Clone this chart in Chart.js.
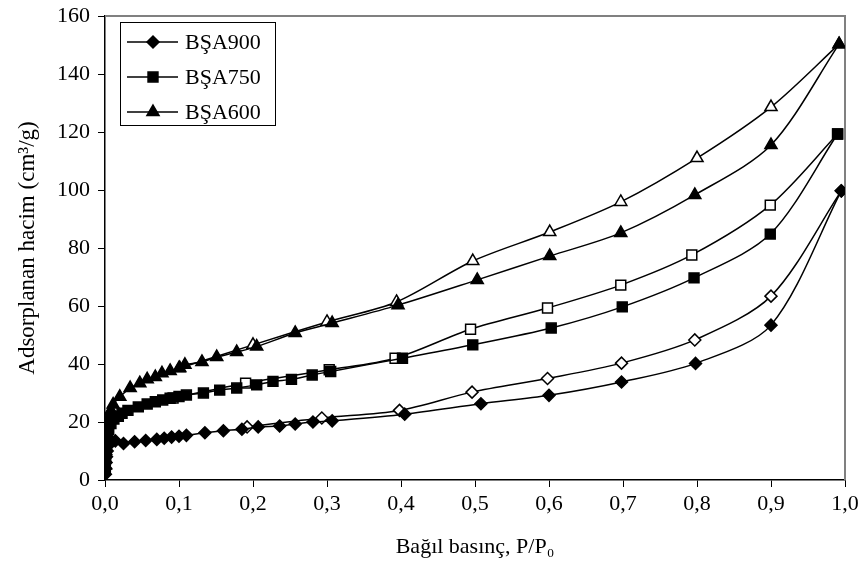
<!DOCTYPE html>
<html>
<head>
<meta charset="utf-8">
<script src="https://cdn.jsdelivr.net/npm/chart.js@4"></script>
<style>
  body { margin: 0; background: #fff; }
</style>
</head>
<body>
<canvas id="isoChart" width="865" height="572"></canvas>
<script>
// relative pressure (P/P0) and adsorbed volume (cm3/g)
const p900Ads = [0.0005, 0.001, 0.0015, 0.002, 0.003, 0.005, 0.009, 0.014, 0.025, 0.04, 0.055, 0.07, 0.08, 0.09, 0.1, 0.11, 0.135, 0.16, 0.185, 0.207, 0.236, 0.257, 0.281, 0.307, 0.405, 0.508, 0.6, 0.698, 0.798, 0.9, 0.995];
const v900Ads = [2, 4, 6, 8, 10, 12, 13.5, 13.5, 12.6, 13.2, 13.6, 14, 14.4, 14.8, 15.1, 15.4, 16.3, 17, 17.5, 18.3, 18.6, 19.3, 20, 20.4, 22.7, 26.3, 29.2, 33.8, 40.2, 53.4, 99.7];
const p900Des = [0.995, 0.9, 0.797, 0.698, 0.598, 0.496, 0.398, 0.293, 0.192];
const v900Des = [99.7, 63.4, 48.3, 40.3, 35, 30.3, 24, 21.4, 18.3];

const p750Ads = [0.0005, 0.001, 0.002, 0.003, 0.005, 0.008, 0.012, 0.018, 0.023, 0.031, 0.045, 0.057, 0.068, 0.078, 0.088, 0.1, 0.11, 0.133, 0.155, 0.178, 0.205, 0.227, 0.252, 0.28, 0.305, 0.402, 0.497, 0.603, 0.699, 0.796, 0.899, 0.99];
const v750Ads = [4, 8, 12, 15, 17.5, 19.5, 21, 22, 23, 24, 25.2, 26.2, 27, 27.6, 28.2, 28.8, 29.3, 30, 31, 31.7, 32.8, 34, 34.7, 36.2, 37.4, 42, 46.6, 52.4, 59.7, 69.7, 84.8, 119.3];
const p750Des = [0.99, 0.899, 0.793, 0.697, 0.598, 0.494, 0.392, 0.303, 0.19, 0.092];
const v750Des = [119.3, 94.8, 77.6, 67.2, 59.3, 52, 42, 38, 33.4, 28.3];

const p600Ads = [0.0005, 0.001, 0.002, 0.003, 0.005, 0.008, 0.011, 0.02, 0.034, 0.047, 0.057, 0.068, 0.077, 0.088, 0.1, 0.108, 0.131, 0.151, 0.178, 0.205, 0.257, 0.307, 0.396, 0.503, 0.601, 0.697, 0.797, 0.9, 0.992];
const v600Ads = [5, 10, 15, 19, 22, 24, 26, 28.7, 31.7, 33.4, 34.7, 35.5, 36.8, 37.6, 38.5, 39.7, 40.7, 42.4, 44.1, 46, 50.7, 54.1, 60.3, 69, 77.2, 85.2, 98.3, 115.5, 150.3];
const p600Des = [0.992, 0.9, 0.8, 0.697, 0.601, 0.497, 0.394, 0.3, 0.2, 0.101];
const v600Des = [150.3, 128.6, 111, 95.9, 85.5, 75.5, 61.4, 54.5, 46.6, 38.6];

const seriesNames = ["BŞA900", "BŞA750", "BŞA600"];
const markers = ["rectRot", "rect", "triangle"];
const markerSize = [6, 7, 7];

const pairs = (xs, ys) => xs.map((x, i) => ({ x: x, y: ys[i] }));

function makeSet(label, pts, style, size, hollow) {
  return {
    label: label,
    data: pts,
    showLine: true,
    borderColor: "#000",
    borderWidth: 1.5,
    tension: 0.3,
    pointStyle: style,
    pointRadius: size,
    pointHoverRadius: size,
    pointBackgroundColor: hollow ? "#fff" : "#000",
    pointBorderColor: "#000",
    pointBorderWidth: 1.5,
  };
}

const datasets = [
  makeSet(seriesNames[0], pairs(p900Ads, v900Ads), markers[0], markerSize[0], false),
  makeSet(seriesNames[0] + " des", pairs(p900Des, v900Des), markers[0], markerSize[0], true),
  makeSet(seriesNames[1], pairs(p750Ads, v750Ads), markers[1], markerSize[1], false),
  makeSet(seriesNames[1] + " des", pairs(p750Des, v750Des), markers[1], markerSize[1], true),
  makeSet(seriesNames[2], pairs(p600Ads, v600Ads), markers[2], markerSize[2], false),
  makeSet(seriesNames[2] + " des", pairs(p600Des, v600Des), markers[2], markerSize[2], true),
];

const serif = "'Liberation Serif', 'Times New Roman', serif";

// gray frame on top and right of plot area
const frame = {
  id: "frame",
  beforeDatasetsDraw(chart) {
    const a = chart.chartArea, c = chart.ctx;
    c.save();
    c.strokeStyle = "#808080";
    c.lineWidth = 2;
    c.beginPath();
    c.moveTo(a.left, a.top);
    c.lineTo(a.right, a.top);
    c.lineTo(a.right, a.bottom);
    c.stroke();
    c.restore();
  },
};

// boxed legend inside the plot, only the filled (adsorption) series
const boxLegend = {
  id: "boxLegend",
  afterDraw(chart) {
    const a = chart.chartArea, c = chart.ctx;
    const bx = a.left + 15, by = a.top + 6, bw = 155, bh = 103;
    c.save();
    c.fillStyle = "#fff";
    c.fillRect(bx, by, bw, bh);
    c.strokeStyle = "#000";
    c.lineWidth = 1;
    c.strokeRect(bx + 0.5, by + 0.5, bw, bh);
    c.font = "22px " + serif;
    c.textBaseline = "middle";
    seriesNames.forEach((name, i) => {
      const y = by + 20 + i * 35;
      c.strokeStyle = "#000";
      c.lineWidth = 1.5;
      c.beginPath();
      c.moveTo(bx + 7, y);
      c.lineTo(bx + 58, y);
      c.stroke();
      c.fillStyle = "#000";
      Chart.helpers.drawPoint(c, { pointStyle: markers[i], radius: markerSize[i], borderWidth: 1 }, bx + 33, y);
      c.fillStyle = "#000";
      c.fillText(name, bx + 65, y + 1);
    });
    c.restore();
  },
};

const ctx = document.getElementById("isoChart").getContext("2d");
const isoChart = new Chart(ctx, {
  type: "scatter",
  data: { datasets: datasets },
  plugins: [frame, boxLegend],
  options: {
    responsive: false,
    animation: false,
    layout: { padding: { top: 16, right: 20, left: 0, bottom: 0 } },
    plugins: {
      legend: { display: false },
      tooltip: { enabled: false },
    },
    scales: {
      x: {
        type: "linear",
        min: 0,
        max: 1,
        afterFit: (s) => { s.height = 92; },
        ticks: {
          stepSize: 0.1,
          color: "#000",
          font: { family: serif, size: 22 },
          padding: 4,
          maxRotation: 0,
          callback: (v) => v.toFixed(1).replace(".", ","),
        },
        grid: { display: true, drawOnChartArea: false, tickLength: 7, color: "#000" },
        border: { color: "#000", width: 1.5 },
        title: {
          display: true,
          text: "Bağıl basınç, P/P₀",
          color: "#000",
          font: { family: serif, size: 22 },
          padding: { top: 4, bottom: 12 },
        },
      },
      y: {
        min: 0,
        max: 160,
        afterFit: (s) => { s.width = 105; s.paddingTop = 0; s.paddingBottom = 0; },
        ticks: {
          stepSize: 20,
          color: "#000",
          font: { family: serif, size: 22 },
          padding: 8,
        },
        grid: { display: true, drawOnChartArea: false, tickLength: 7, color: "#000" },
        border: { color: "#000", width: 1.5 },
        title: {
          display: true,
          text: "Adsorplanan hacim (cm³/g)",
          color: "#000",
          font: { family: serif, size: 23 },
          padding: { top: 14, bottom: 4 },
        },
      },
    },
  },
});
</script>
</body>
</html>
